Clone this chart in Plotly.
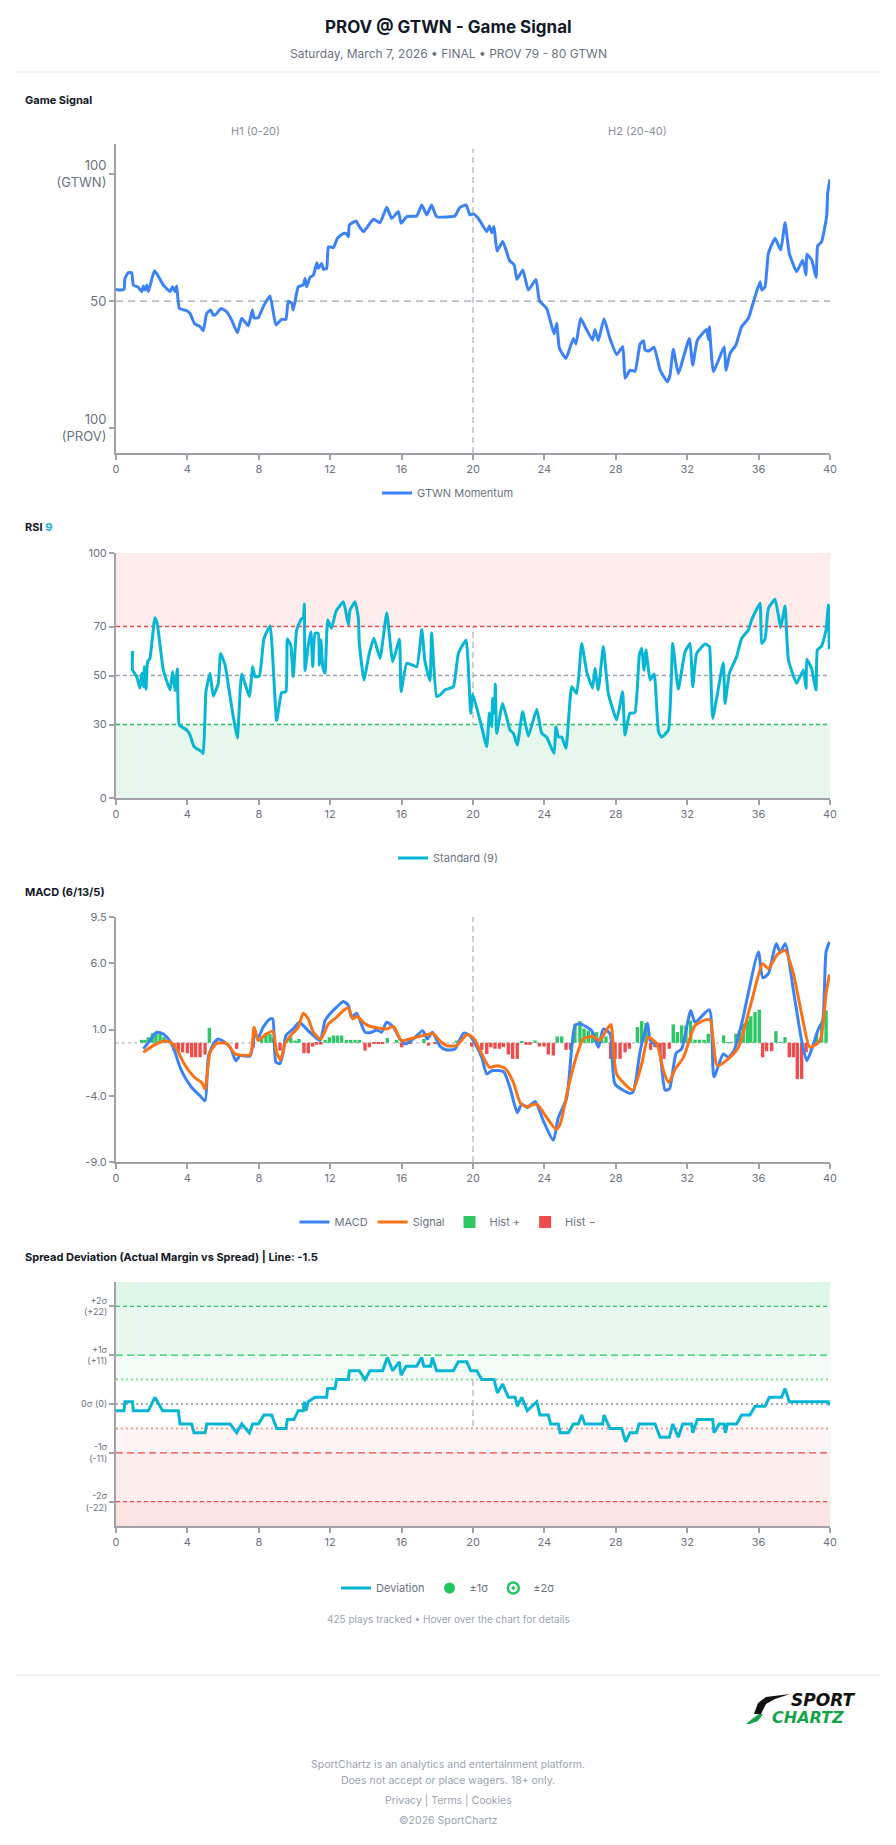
import plotly.graph_objects as go

W, H = 896, 1845
def px(x): return x / W
def py(y): return 1 - y / H

FONT = "Inter, Lato, sans-serif"
BLUE = "#3b82f6"; ORANGE = "#f97316"; CYAN = "#06b6d4"; GREEN = "#22c55e"; RED = "#ef4444"
AXC = "#a1a1aa"; TICK = "#6b7280"; DARK = "#111827"

X_TICKS = [0, 4, 8, 12, 16, 20, 24, 28, 32, 36, 40]

# ---------------- Game Signal (GTWN momentum, 0 = PROV 100, 100 = GTWN 100) -------------
GAME_SIGNAL = [
    (0, 54.6), (0.22, 54.3), (0.45, 54.6), (0.5, 58.9), (0.69, 61.2), (0.88, 61.2), (0.97, 56.3),
    (1.25, 55.4), (1.44, 53.7), (1.53, 55.9), (1.62, 54.3), (1.72, 56.3), (1.81, 53.7), (2.15, 61.9),
    (2.28, 60.9), (2.65, 56.3), (3.03, 53.7), (3.17, 55.6), (3.31, 53.7), (3.40, 55.9), (3.55, 47.1),
    (3.96, 46.2), (4.15, 45.1), (4.39, 41.2), (4.71, 39.9), (4.89, 38.3), (5.08, 45.1), (5.30, 46.5),
    (5.45, 44.4), (5.60, 44.8), (5.88, 47.1), (6.20, 45.8), (6.48, 42.5), (6.80, 37.5), (7.04, 43.2),
    (7.41, 40.3), (7.64, 46.5), (7.73, 43.4), (7.97, 43.4), (8.25, 47.8), (8.63, 52.0), (8.96, 40.6),
    (9.28, 42.8), (9.52, 42.8), (9.65, 49.9), (9.84, 49.2), (9.93, 46.5), (10.21, 55.6), (10.49, 56.3),
    (10.59, 58.9), (10.68, 55.6), (10.87, 59.3), (11.06, 60.2), (11.25, 65.1), (11.33, 62.9),
    (11.52, 64.8), (11.61, 62.5), (11.80, 62.9), (11.90, 71.4), (12.18, 71.0), (12.40, 74.7),
    (12.74, 76.6), (12.92, 76.4), (13.02, 75.3), (13.07, 79.9), (13.45, 81.5), (13.58, 79.9),
    (13.86, 77.3), (14.42, 82.2), (14.79, 80.8), (15.17, 86.9), (15.45, 82.5), (15.82, 85.2),
    (15.97, 80.6), (16.29, 83.2), (16.85, 83.5), (17.13, 87.8), (17.41, 83.9), (17.68, 87.8),
    (17.96, 83.2), (18.71, 83.2), (18.99, 83.5), (19.27, 86.9), (19.61, 87.8), (19.83, 83.9),
    (20.02, 84.3), (20.30, 82.5), (20.77, 77.3), (20.92, 79.5), (21.05, 76.9), (21.18, 79.3),
    (21.34, 69.7), (21.67, 73.4), (22.05, 65.9), (22.31, 64.2), (22.46, 58.5), (22.79, 62.2),
    (23.10, 54.3), (23.53, 58.5), (23.72, 50.1), (24.13, 47.1), (24.54, 37.0), (24.69, 41.2),
    (24.84, 31.4), (25.21, 27.4), (25.62, 35.3), (25.77, 33.1), (26.03, 43.2), (26.33, 39.2),
    (26.70, 34.6), (26.83, 38.8), (27.02, 34.4), (27.34, 43.0), (27.67, 35.3), (28.05, 29.0),
    (28.39, 32.0), (28.52, 19.6), (28.80, 22.8), (29.08, 22.4), (29.36, 33.1), (29.55, 34.4),
    (29.64, 30.7), (29.83, 30.3), (30.15, 31.8), (30.48, 22.8), (30.89, 18.2), (31.04, 20.9),
    (31.22, 31.0), (31.50, 21.5), (32.12, 35.3), (32.31, 24.8), (32.57, 34.6), (33.09, 38.8),
    (33.19, 34.9), (33.24, 39.9), (33.47, 22.2), (34.07, 32.0), (34.18, 22.8), (34.40, 29.4),
    (34.73, 32.7), (35.05, 39.9), (35.43, 43.2), (35.71, 49.7), (36.08, 57.6), (36.18, 54.3),
    (36.36, 55.6), (36.55, 68.8), (36.92, 74.7), (37.24, 70.1), (37.48, 80.8), (37.72, 68.8),
    (38.13, 61.5), (38.47, 66.1), (38.66, 60.2), (38.70, 68.4), (38.98, 66.1), (39.22, 59.3),
    (39.31, 71.7), (39.53, 73.4), (39.81, 83.2), (39.87, 92.4), (40.0, 97.9),
]

# ---------------- RSI (9) ----------------
RSI = [
    (0.93, 60.0), (0.93, 52.2), (1.16, 49.5), (1.34, 44.8), (1.44, 50.9), (1.53, 45.4), (1.59, 53.6),
    (1.68, 44.4), (1.77, 55.6), (1.90, 57.0), (2.18, 73.6), (2.31, 71.3), (2.65, 52.2), (3.03, 44.1),
    (3.17, 51.6), (3.31, 43.8), (3.44, 52.7), (3.55, 29.8), (3.96, 27.8), (4.15, 25.7), (4.37, 21.0),
    (4.80, 18.9), (4.89, 18.2), (5.04, 43.4), (5.27, 50.9), (5.45, 41.6), (5.73, 46.8), (5.86, 59.0),
    (6.11, 54.3), (6.39, 41.4), (6.57, 33.2), (6.80, 24.4), (7.04, 50.6), (7.47, 41.4), (7.66, 53.6),
    (7.79, 49.5), (8.03, 49.8), (8.29, 65.2), (8.63, 70.2), (9.00, 31.6), (9.28, 43.0), (9.52, 43.4),
    (9.60, 64.9), (9.79, 62.4), (9.93, 49.5), (10.12, 68.6), (10.40, 73.3), (10.49, 73.3),
    (10.55, 79.2), (10.59, 52.0), (10.77, 62.4), (10.92, 67.9), (11.02, 53.6), (11.15, 67.2),
    (11.33, 67.2), (11.39, 54.3), (11.48, 64.5), (11.58, 53.6), (11.71, 50.9), (11.86, 72.7),
    (12.08, 69.3), (12.32, 76.1), (12.74, 80.1), (13.02, 70.6), (13.11, 76.7), (13.39, 80.1),
    (13.58, 73.3), (13.63, 63.1), (13.89, 48.2), (14.19, 59.0), (14.45, 65.2), (14.79, 57.0),
    (15.17, 75.6), (15.50, 55.6), (15.88, 64.8), (15.97, 43.4), (16.29, 55.0), (16.85, 53.6),
    (17.13, 68.8), (17.31, 55.6), (17.59, 47.9), (17.68, 67.5), (17.96, 41.4), (18.15, 42.0),
    (18.43, 44.1), (18.90, 45.4), (19.18, 59.0), (19.61, 64.5), (19.87, 34.6), (19.98, 42.4),
    (20.39, 31.8), (20.77, 21.0), (20.92, 34.8), (21.05, 29.1), (21.10, 40.7), (21.20, 34.6),
    (21.25, 46.5), (21.33, 26.4), (21.66, 38.6), (22.07, 27.8), (22.26, 26.4), (22.48, 21.6),
    (22.78, 35.2), (23.10, 25.3), (23.57, 36.2), (23.85, 26.4), (24.13, 24.8), (24.54, 18.2),
    (24.65, 29.1), (24.78, 25.0), (24.97, 24.8), (25.21, 20.3), (25.53, 45.4), (25.81, 42.7),
    (26.09, 63.1), (26.37, 51.6), (26.70, 44.8), (26.83, 52.9), (27.02, 44.1), (27.30, 61.8),
    (27.58, 42.7), (28.05, 31.8), (28.38, 43.4), (28.51, 25.7), (28.79, 34.6), (29.07, 34.8),
    (29.32, 58.4), (29.45, 61.1), (29.58, 52.2), (29.69, 60.4), (29.92, 48.2), (30.15, 50.6),
    (30.39, 27.1), (30.57, 24.8), (30.95, 27.8), (31.19, 63.1), (31.50, 44.4), (31.88, 59.7),
    (32.16, 63.1), (32.31, 45.4), (32.53, 59.0), (33.00, 62.9), (33.24, 61.8), (33.32, 51.6),
    (33.43, 32.5), (34.02, 55.2), (34.12, 38.6), (34.36, 50.9), (34.77, 57.7), (35.05, 65.2),
    (35.43, 68.6), (35.61, 72.7), (36.08, 79.5), (36.17, 63.1), (36.36, 64.8), (36.55, 77.4),
    (36.92, 81.1), (37.24, 69.7), (37.48, 78.4), (37.67, 56.3), (38.13, 46.8), (38.51, 52.2),
    (38.66, 44.8), (38.70, 56.6), (38.97, 52.9), (39.22, 44.1), (39.29, 60.4), (39.53, 62.0),
    (39.78, 68.6), (39.91, 78.8), (39.96, 60.7),
]

# ---------------- MACD (6/13/5) ----------------
MACD = [
    (1.53, -0.46), (1.87, 0.12), (2.28, 0.80), (2.65, 0.67), (2.93, 0.29), (3.21, -0.34), (3.59, -1.85),
    (3.87, -2.61), (4.24, -3.37), (4.71, -4.0), (4.99, -4.38), (5.17, -1.10), (5.45, -0.09),
    (5.73, 0.29), (6.01, 0.12), (6.39, -0.34), (6.72, -1.35), (6.95, -0.97), (7.51, -1.0), (7.79, 0.67),
    (7.97, 0.42), (8.25, 1.18), (8.63, 1.81), (8.78, 1.81), (8.96, -1.47), (9.19, -1.55), (9.37, -0.72),
    (9.52, 0.55), (9.93, 1.05), (10.27, 1.56), (10.49, 1.30), (10.96, 0.67), (11.43, 0.17),
    (11.71, 1.68), (11.99, 2.19), (12.36, 2.69), (12.74, 3.12), (13.02, 2.82), (13.20, 1.93),
    (13.48, 2.24), (13.95, 0.80), (14.32, 0.80), (14.60, 0.97), (14.88, 0.80), (15.16, 1.56),
    (15.54, 1.18), (15.91, 0.29), (16.19, -0.09), (16.66, 0.29), (17.18, 0.92), (17.44, 0.29),
    (17.72, 0.80), (18.15, -0.25), (18.52, -0.54), (18.99, -0.46), (19.46, 0.72), (19.74, 0.62),
    (20.02, 0.17), (20.49, -1.10), (20.77, -2.36), (21.05, -2.11), (21.71, -2.18), (22.07, -3.37),
    (22.48, -5.26), (22.73, -4.63), (23.05, -4.88), (23.48, -4.43), (23.94, -5.89), (24.50, -7.36),
    (24.78, -5.64), (25.25, -4.13), (25.72, 1.30), (26.0, 1.43), (26.65, 0.92), (27.02, -0.34),
    (27.30, 1.05), (27.68, 0.67), (27.96, -3.12), (28.81, -3.82), (28.99, -3.67), (29.37, -0.59),
    (29.78, 1.48), (29.93, 0.17), (30.40, -0.34), (30.76, -3.57), (31.0, -3.49), (31.38, -0.79),
    (31.69, -0.46), (32.20, 2.44), (32.44, 1.56), (33.24, 2.49), (33.50, -2.56), (34.02, -0.84),
    (34.30, -1.10), (34.62, -0.59), (35.05, 1.43), (35.99, 6.86), (36.23, 4.91), (36.55, 5.22),
    (36.98, 7.49), (37.21, 6.86), (37.49, 7.49), (37.95, 3.95), (38.41, 0.17), (38.70, -1.35),
    (38.98, -0.46), (39.35, 1.05), (39.59, 1.68), (39.78, 6.86), (39.97, 7.62),
]

SIGNAL = [
    (1.53, -0.72), (2.09, -0.21), (2.65, 0.12), (3.03, 0.04), (3.40, -0.46), (3.77, -1.47),
    (4.15, -2.23), (4.52, -2.74), (4.80, -2.99), (4.99, -3.49), (5.27, -0.72), (5.64, -0.04),
    (6.20, -0.04), (6.67, -0.84), (7.51, -0.89), (7.74, 1.18), (7.97, 0.17), (8.35, 0.60), (8.78, 0.87),
    (9.0, -0.72), (9.22, -1.30), (9.46, -0.09), (9.75, 0.49), (10.21, 1.18), (10.49, 2.24),
    (10.77, 1.81), (11.06, 0.80), (11.47, 0.29), (11.90, 1.43), (12.36, 1.93), (12.74, 2.44),
    (13.02, 2.64), (13.26, 1.81), (13.52, 1.98), (13.95, 1.43), (14.42, 1.18), (15.16, 1.05),
    (15.54, 1.23), (16.00, 0.17), (16.66, 0.37), (17.22, 0.55), (17.78, 0.67), (18.15, 0.15),
    (18.52, -0.21), (19.07, -0.21), (19.68, 0.62), (20.02, 0.37), (20.49, -0.84), (20.92, -1.85),
    (21.33, -1.73), (21.80, -1.93), (22.26, -2.99), (22.64, -4.51), (22.98, -4.83), (23.57, -4.63),
    (24.13, -5.64), (24.65, -6.53), (24.88, -6.15), (25.34, -3.37), (25.72, -1.35), (26.18, 0.29),
    (26.74, 0.47), (27.08, 0.17), (27.40, 0.80), (27.72, 1.38), (28.05, -2.36), (28.95, -3.57),
    (29.45, -1.60), (29.83, 0.42), (30.30, -0.09), (30.67, -2.11), (30.96, -2.99), (31.33, -1.98),
    (31.79, -1.10), (32.44, 1.30), (33.0, 1.73), (33.28, 1.73), (33.69, -1.73), (34.40, -1.10),
    (34.87, -0.34), (35.62, 3.20), (36.23, 5.97), (36.55, 5.60), (37.02, 6.61), (37.48, 6.98),
    (37.95, 5.22), (38.41, 2.19), (38.88, -0.34), (39.44, 0.17), (39.78, 3.70), (39.97, 5.17),
]

HIST = [
    (1.44, 0.22), (1.62, 0.22), (1.81, 0.42), (2.04, 0.72), (2.24, 0.80), (2.47, 0.67), (2.69, 0.42),
    (2.93, 0.17), (3.25, -0.59), (3.49, -0.59), (3.73, -0.72), (4.0, -0.79), (4.24, -1.09),
    (4.46, -1.09), (4.71, -1.09), (4.99, -0.89), (5.23, 1.13), (5.55, -0.10), (5.79, -0.10),
    (6.76, -0.46), (7.69, -0.34), (8.16, 0.47), (8.40, 0.67), (8.63, 0.67), (8.81, 0.42),
    (9.19, -0.59), (9.56, 0.29), (9.79, 0.42), (10.03, 0.17), (10.25, 0.29), (10.53, -0.79),
    (10.77, -0.79), (11.02, -0.29), (11.24, -0.14), (11.47, -0.14), (11.71, 0.22), (11.95, 0.42),
    (12.18, 0.55), (12.40, 0.55), (12.64, 0.55), (12.92, 0.22), (13.15, 0.22), (13.39, 0.22),
    (13.63, 0.22), (13.95, -0.59), (14.19, -0.34), (14.45, -0.09), (14.70, -0.09), (14.94, -0.09),
    (15.20, 0.37), (15.72, 0.22), (16.0, -0.34), (16.47, -0.09), (17.25, 0.29), (17.50, -0.21),
    (17.87, -0.09), (18.34, -0.14), (19.08, 0.17), (19.93, -0.29), (20.21, -0.34), (20.49, -0.54),
    (20.77, -0.84), (21.0, -0.34), (21.23, -0.45), (21.48, -0.45), (21.70, -0.33), (21.98, -0.88),
    (22.22, -1.21), (22.48, -1.21), (22.73, 0.13), (22.97, -0.15), (23.19, -0.15), (23.47, 0.18),
    (23.72, -0.28), (23.98, -0.28), (24.22, -0.88), (24.50, -0.96), (24.72, 0.48), (24.97, 0.48),
    (25.21, -0.53), (25.47, -0.53), (25.71, 1.44), (25.99, 1.64), (26.22, 1.06), (26.46, 0.93),
    (26.70, 0.81), (26.93, 0.81), (27.21, 0.56), (27.45, 0.48), (27.71, -1.21), (27.96, -1.21),
    (28.24, -1.21), (28.52, -0.71), (28.76, -0.45), (29.21, 1.19), (29.45, 1.64), (29.69, 1.49),
    (29.95, -0.53), (30.20, -0.33), (30.48, -0.78), (30.70, -1.21), (31.0, -0.45), (31.22, 1.39),
    (31.45, 0.81), (31.69, 1.31), (31.93, 1.31), (32.19, 1.69), (32.44, 0.23), (32.68, 0.23),
    (32.94, 0.23), (33.18, 0.68), (34.04, 0.56), (34.26, 0.05), (34.49, 0.05), (34.73, 0.68),
    (34.92, 0.93), (35.14, 1.44), (35.37, 1.69), (35.56, 2.0), (35.80, 2.32), (36.04, 2.5),
    (36.23, -1.09), (36.45, -0.63), (36.73, -0.63), (36.97, 0.88), (37.24, 0.05), (37.48, 0.43),
    (37.72, -1.09), (37.95, -1.09), (38.17, -2.73), (38.41, -2.73), (38.66, -0.71), (39.25, 0.73),
    (39.53, 1.44), (39.78, 2.45),
]

# ---------------- Spread deviation (points) ----------------
DEVIATION = [
    (0, -1.5), (0.45, -1.5), (0.5, 0.5), (0.93, 0.5), (0.97, -1.5), (1.81, -1.5), (2.18, 1.5),
    (2.61, -1.5), (3.49, -1.5), (3.59, -4.5), (4.24, -4.5), (4.37, -6.5), (4.99, -6.5), (5.08, -4.5),
    (6.39, -4.5), (6.76, -6.5), (7.04, -4.5), (7.47, -6.5), (7.66, -4.5), (7.97, -4.5), (8.29, -2.5),
    (8.72, -2.5), (9.0, -5.5), (9.52, -5.5), (9.60, -3.5), (9.97, -3.5), (10.21, -1.5), (10.49, -1.5),
    (10.55, 0.5), (10.64, -1.5), (10.77, 0.5), (11.15, 1.5), (11.80, 1.5), (11.86, 3.5), (12.27, 3.5),
    (12.36, 5.5), (13.02, 5.5), (13.07, 7.5), (13.63, 7.5), (13.95, 5.5), (14.23, 7.5), (14.94, 7.5),
    (15.20, 10.5), (15.50, 7.5), (15.87, 9.5), (15.97, 6.5), (16.25, 8.5), (16.84, 8.5), (17.12, 10.5),
    (17.25, 8.5), (17.63, 8.5), (17.72, 10.5), (17.96, 7.5), (18.90, 7.5), (19.18, 9.5), (19.65, 9.5),
    (19.87, 7.5), (20.21, 7.5), (20.49, 5.5), (21.18, 5.5), (21.37, 2.5), (21.66, 4.5), (21.98, 1.5),
    (22.36, 1.5), (22.48, -0.5), (22.73, 1.5), (23.04, -1.5), (23.57, 0.5), (23.75, -2.5),
    (24.22, -2.5), (24.35, -4.5), (24.78, -4.5), (24.88, -6.5), (25.34, -6.5), (25.62, -4.5),
    (25.90, -4.5), (26.09, -2.5), (26.27, -4.5), (27.26, -4.5), (27.34, -2.5), (27.67, -5.5),
    (28.33, -5.5), (28.55, -8.5), (28.80, -6.5), (29.17, -6.5), (29.30, -4.5), (30.20, -4.5),
    (30.48, -7.5), (31.0, -7.5), (31.19, -4.5), (31.50, -7.5), (31.75, -4.5), (32.25, -4.5),
    (32.31, -6.5), (32.57, -3.5), (33.43, -3.5), (33.50, -6.5), (33.80, -4.5), (34.06, -4.5),
    (34.14, -6.5), (34.25, -4.5), (34.77, -4.5), (35.05, -2.5), (35.52, -2.5), (35.80, -0.5),
    (36.36, -0.5), (36.60, 1.5), (37.29, 1.5), (37.48, 3.5), (37.72, 0.5), (39.91, 0.5), (40.0, -0.3),
]

SIGMA = 11
SPREAD_TICKS = [2 * SIGMA, SIGMA, 0, -SIGMA, -2 * SIGMA]
SPREAD_LABELS = ["+2σ<br>(+22)", "+1σ<br>(+11)", "0σ (0)", "-1σ<br>(-11)", "-2σ<br>(-22)"]

def unzip(pairs):
    return [p[0] for p in pairs], [p[1] for p in pairs]

gx, gy = unzip(GAME_SIGNAL)
rx, ry = unzip(RSI)
mx, my = unzip(MACD)
sx, sy = unzip(SIGNAL)
dx, dy = unzip(DEVIATION)
hpx = [x for x, v in HIST if v >= 0]; hpy = [v for x, v in HIST if v >= 0]
hnx = [x for x, v in HIST if v < 0]; hny = [v for x, v in HIST if v < 0]

fig = go.Figure()

# Panel 1
fig.add_trace(go.Scatter(x=gx, y=gy, mode="lines", name="GTWN Momentum",
                         line=dict(color=BLUE, width=3, shape="spline", smoothing=0.4),
                         xaxis="x", yaxis="y", legend="legend", hoverinfo="skip"))
# Panel 2
fig.add_trace(go.Scatter(x=rx, y=ry, mode="lines", name="Standard (9)",
                         line=dict(color=CYAN, width=3, shape="spline", smoothing=0.4),
                         xaxis="x2", yaxis="y2", legend="legend2", hoverinfo="skip"))
# Panel 3
fig.add_trace(go.Bar(x=hpx, y=hpy, name="Hist +", marker=dict(color=GREEN, line=dict(width=0)),
                     width=0.19, opacity=0.95, xaxis="x3", yaxis="y3", legend="legend3",
                     legendrank=3, hoverinfo="skip"))
fig.add_trace(go.Bar(x=hnx, y=hny, name="Hist −", marker=dict(color=RED, line=dict(width=0)),
                     width=0.19, opacity=0.95, xaxis="x3", yaxis="y3", legend="legend3",
                     legendrank=4, hoverinfo="skip"))
fig.add_trace(go.Scatter(x=mx, y=my, mode="lines", name="MACD",
                         line=dict(color=BLUE, width=3, shape="spline", smoothing=0.6),
                         xaxis="x3", yaxis="y3", legend="legend3", legendrank=1, hoverinfo="skip"))
fig.add_trace(go.Scatter(x=sx, y=sy, mode="lines", name="Signal",
                         line=dict(color=ORANGE, width=3, shape="spline", smoothing=0.6),
                         xaxis="x3", yaxis="y3", legend="legend3", legendrank=2, hoverinfo="skip"))
# Panel 4
fig.add_trace(go.Scatter(x=dx, y=dy, mode="lines", name="Deviation",
                         line=dict(color=CYAN, width=3),
                         xaxis="x4", yaxis="y4", legend="legend4", hoverinfo="skip"))
fig.add_trace(go.Scatter(x=[None], y=[None], mode="markers", name="±1σ",
                         marker=dict(color=GREEN, size=11, symbol="circle"),
                         xaxis="x4", yaxis="y4", legend="legend4"))
fig.add_trace(go.Scatter(x=[None], y=[None], mode="markers", name="±2σ",
                         marker=dict(color=GREEN, size=11, symbol="circle-open-dot",
                                     line=dict(width=2.5, color=GREEN)),
                         xaxis="x4", yaxis="y4", legend="legend4"))

XD = [px(116), px(830)]
panels = {
    "": (144, 453),
    "2": (553, 798),
    "3": (917, 1162),
    "4": (1282, 1526),
}
ax_common = dict(showline=True, linecolor=AXC, linewidth=2, ticks="outside", ticklen=5,
                 tickcolor=AXC, tickwidth=1.5, showgrid=False, zeroline=False, automargin=False,
                 tickfont=dict(family=FONT, size=11, color=TICK))
layout_axes = {}
for k, (top, bot) in panels.items():
    layout_axes["xaxis" + k] = dict(ax_common, domain=XD, anchor="y" + k, range=[0, 40],
                                    tickvals=X_TICKS, ticktext=[str(t) for t in X_TICKS])
    layout_axes["yaxis" + k] = dict(ax_common, domain=[py(bot), py(top)], anchor="x" + k)

layout_axes["yaxis"].update(range=[-9.8, 111.8], tickvals=[100, 50, 0],
                            ticktext=["100<br>(GTWN)", "50", "100<br>(PROV)"],
                            tickfont=dict(family=FONT, size=13, color=TICK))
layout_axes["yaxis2"].update(range=[0, 100], tickvals=[0, 30, 50, 70, 100],
                             ticktext=["0", "30", "50", "70", "100"])
layout_axes["yaxis3"].update(range=[-9, 9.5], tickvals=[-9, -4, 1, 6, 9.5],
                             ticktext=["-9.0", "-4.0", "1.0", "6.0", "9.5"])
layout_axes["yaxis4"].update(range=[-27.5, 27.5], tickvals=SPREAD_TICKS, ticktext=SPREAD_LABELS,
                             tickfont=dict(family=FONT, size=9, color=TICK))

shapes = []
def hline(xr, yr, y, color, dash, width=1.3):
    shapes.append(dict(type="line", xref=xr, yref=yr, x0=0, x1=40, y0=y, y1=y,
                       line=dict(color=color, dash=dash, width=width), layer="below"))
def band(xr, yr, y0, y1, color):
    shapes.append(dict(type="rect", xref=xr, yref=yr, x0=0, x1=40, y0=y0, y1=y1,
                       fillcolor=color, line=dict(width=0), layer="below"))
def vline(xr, yr, y1=1.0):
    shapes.append(dict(type="line", xref=xr, yref=yr + " domain", x0=20, x1=20, y0=0, y1=y1,
                       line=dict(color="#c6c9d0", dash="6px,4px", width=1.8), layer="below"))

# Panel 1
hline("x", "y", 50, "#9ca3af", "7px,5px", 1.3)
vline("x", "y", 0.985)
# Panel 2
band("x2", "y2", 70, 100, "#fdeceb")
band("x2", "y2", 0, 30, "#e8f7ee")
hline("x2", "y2", 70, RED, "4px,3px", 1.3)
hline("x2", "y2", 50, "#9ca3af", "4px,3px", 1.3)
hline("x2", "y2", 30, GREEN, "4px,3px", 1.3)
vline("x2", "y2")
# Panel 3
hline("x3", "y3", 0, "#b8bcc4", "3px,3px", 1.3)
vline("x3", "y3")
# Panel 4
band("x4", "y4", 22, 27.5, "#ddf5e6")
band("x4", "y4", 11, 22, "#e9f8ef")
band("x4", "y4", 5.5, 11, "#f3fbf6")
band("x4", "y4", -11, -5.5, "#fdf5f5")
band("x4", "y4", -22, -11, "#fdeeee")
band("x4", "y4", -27.5, -22, "#fde2e2")
hline("x4", "y4", 22, GREEN, "4px,3px", 1.2)
hline("x4", "y4", 11, GREEN, "7px,4px", 1.2)
hline("x4", "y4", 5.5, "#7fdc9f", "2px,3px", 2)
hline("x4", "y4", 0, "#a3a8b3", "2px,3px", 2)
hline("x4", "y4", -5.5, "#f49a9a", "2px,3px", 2)
hline("x4", "y4", -11, RED, "7px,4px", 1.2)
hline("x4", "y4", -22, RED, "4px,3px", 1.2)
vline("x4", "y4")

# Dividers
for yy in (72, 1675):
    shapes.append(dict(type="line", xref="paper", yref="paper", x0=px(16), x1=px(880),
                       y0=py(yy), y1=py(yy), line=dict(color="#e5e7eb", width=1)))

# Logo swoosh
def path(pts):
    return "M " + " L ".join(f"{px(a):.5f},{py(b):.5f}" for a, b in pts) + " Z"
shapes.append(dict(type="path", xref="paper", yref="paper",
                   path=path([(754, 1714), (758, 1703), (766, 1697), (790, 1694), (775, 1699),
                              (766, 1704), (761, 1714)]),
                   fillcolor="#111111", line=dict(width=0)))
shapes.append(dict(type="path", xref="paper", yref="paper",
                   path=path([(746, 1724), (752, 1719), (759, 1714), (763, 1714), (758, 1721),
                              (750, 1724)]),
                   fillcolor="#16a34a", line=dict(width=0)))

annotations = []
def text(x, y, s, size, color, bold=False, xanchor="center", family=FONT, style="normal"):
    annotations.append(dict(x=px(x), y=py(y), xref="paper", yref="paper", text=s, showarrow=False,
                            xanchor=xanchor, yanchor="middle",
                            font=dict(family=family, size=size, color=color,
                                      weight=700 if bold else 400, style=style)))

text(448, 27, "PROV @ GTWN - Game Signal", 17, DARK, bold=True)
text(448, 53, "Saturday, March 7, 2026 • FINAL • PROV 79 - 80 GTWN", 12, TICK)
text(23, 100, "Game Signal", 11, DARK, bold=True, xanchor="left")
text(255, 131, "H1 (0-20)", 11, "#8b8f98")
text(637, 131, "H2 (20-40)", 11, "#8b8f98")
text(23, 527, f"RSI <span style='color:{CYAN}'>9</span>", 11, DARK, bold=True, xanchor="left")
text(23, 892, "MACD (6/13/5)", 11, DARK, bold=True, xanchor="left")
text(23, 1257, "Spread Deviation (Actual Margin vs Spread) | Line: -1.5", 11, DARK, bold=True, xanchor="left")
text(448, 1619, "425 plays tracked • Hover over the chart for details", 10, "#9ca3af")
text(823, 1700, "SPORT", 17, "#111111", bold=True, style="italic", family="DejaVu Sans, sans-serif")
text(808, 1717, "CHARTZ", 16, "#16a34a", bold=True, style="italic", family="DejaVu Sans, sans-serif")
text(448, 1764, "SportChartz is an analytics and entertainment platform.", 10.5, "#9ca3af")
text(448, 1780, "Does not accept or place wagers. 18+ only.", 10.5, "#9ca3af")
text(448, 1800, "Privacy | Terms | Cookies", 10.5, "#9ca3af")
text(448, 1820, "©2026 SportChartz", 10.5, "#9ca3af")

def legend_at(y):
    return dict(orientation="h", x=0.5, xanchor="center", y=py(y), yanchor="middle",
                font=dict(family=FONT, size=11, color=TICK), itemwidth=30,
                bgcolor="rgba(0,0,0,0)", traceorder="normal", itemclick=False, itemdoubleclick=False)

fig.update_layout(
    width=W, height=H, margin=dict(l=0, r=0, t=0, b=0, pad=0, autoexpand=False),
    paper_bgcolor="white", plot_bgcolor="white",
    font=dict(family=FONT, color=TICK),
    barmode="overlay", showlegend=True,
    legend=legend_at(493), legend2=legend_at(858), legend3=legend_at(1222), legend4=legend_at(1588),
    shapes=shapes, annotations=annotations,
    **layout_axes,
)

fig.write_html("out.html")
